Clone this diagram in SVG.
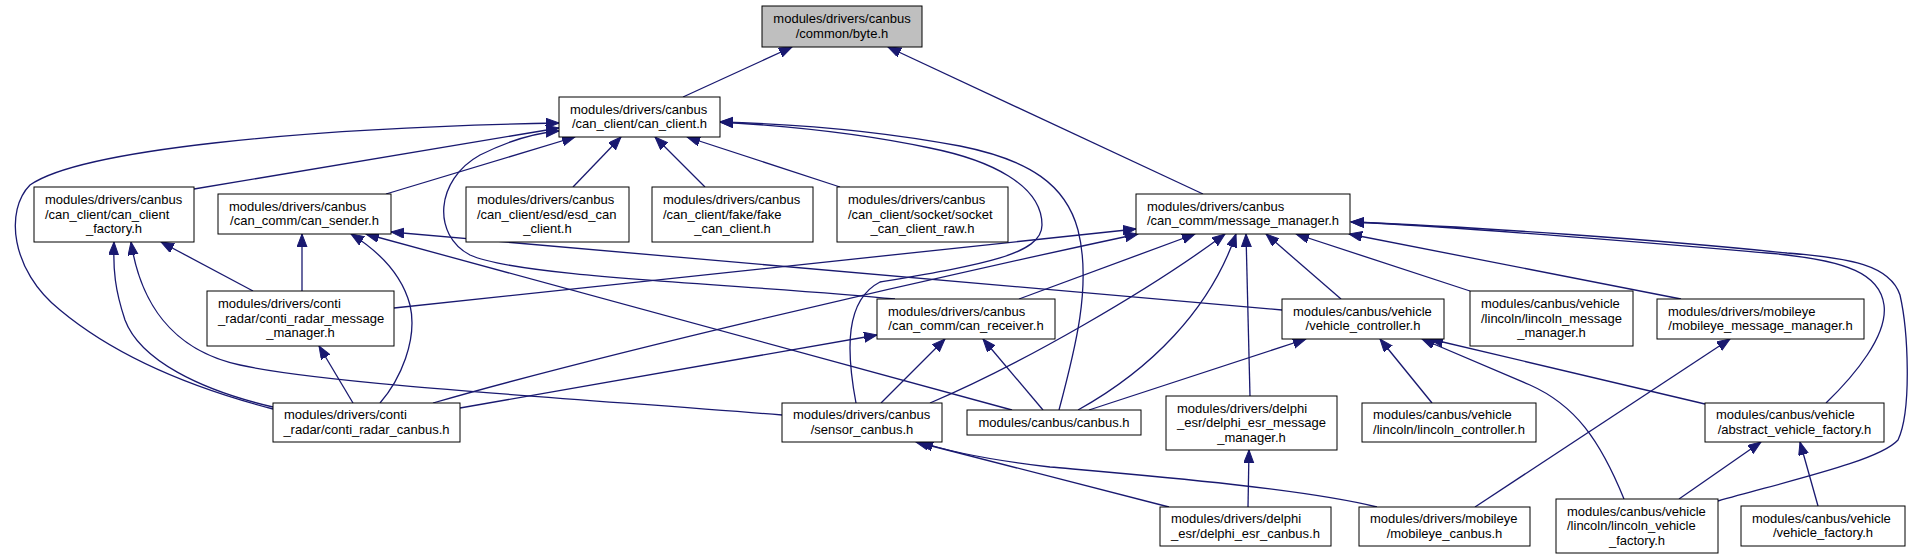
<svg xmlns="http://www.w3.org/2000/svg" width="1917" height="560" viewBox="0 0 1917 560">
<style>
.node rect{fill:#fff;stroke:#000;stroke-width:1}
.node text{font-family:"Liberation Sans",Arial,Helvetica,sans-serif;font-size:13px;fill:#000}
.node text.c{text-anchor:middle}
#byte rect{fill:#bfbfbf}
.e{fill:none;stroke:#191970;stroke-width:1.3;marker-end:url(#ah)}
</style>
<defs>
<marker id="ah" markerUnits="userSpaceOnUse" markerWidth="14" markerHeight="11" refX="13" refY="5" orient="auto">
<path d="M0,0 L13,5 L0,10 z" fill="#191970" stroke="#191970" stroke-width="1"/>
</marker>
</defs>
<rect width="1917" height="560" fill="#fff"/>
<g id="edges">
<path class="e" d="M683,97 L792,47"/>
<path class="e" d="M1203,194 L888,47"/>
<path class="e" d="M194,189 L559,128"/>
<path class="e" d="M386,194 L575,137"/>
<path class="e" d="M573,187 L621,137"/>
<path class="e" d="M705,187 L655,137"/>
<path class="e" d="M840,187 L687,137"/>
<path class="e" d="M273,409 C200,390 120,360 60,310 C10,270 5,210 30,185 C80,150 300,128 559,123"/>
<path class="e" d="M895,299 C760,285 520,278 470,255 C432,235 435,180 480,155 C510,140 535,133 559,131"/>
<path class="e" d="M856,403 C846,350 845,300 880,282 C980,265 1042,255 1042,225 C1042,185 990,160 930,148 C860,133 790,126 720,122"/>
<path class="e" d="M1059,410 C1075,350 1092,285 1078,230 C1066,185 1030,160 960,146 C880,131 800,124 720,122"/>
<path class="e" d="M253,291 L161,242"/>
<path class="e" d="M273,407 C200,390 140,360 125,320 C115,290 113,270 114,242"/>
<path class="e" d="M782,415 C600,400 330,385 240,365 C170,350 140,300 131,242"/>
<path class="e" d="M302,291 L302,234"/>
<path class="e" d="M380,403 C400,380 418,340 410,305 C402,275 380,252 351,234"/>
<path class="e" d="M1012,410 L366,234"/>
<path class="e" d="M1282,310 L391,232"/>
<path class="e" d="M394,308 L1136,229"/>
<path class="e" d="M433,403 C600,355 900,285 1138,234"/>
<path class="e" d="M460,408 L877,335"/>
<path class="e" d="M1019,299 L1195,234"/>
<path class="e" d="M881,403 L945,339"/>
<path class="e" d="M1043,410 L983,339"/>
<path class="e" d="M930,403 C1020,365 1150,290 1225,234"/>
<path class="e" d="M1078,410 C1150,370 1210,310 1236,234"/>
<path class="e" d="M1250,396 L1246,234"/>
<path class="e" d="M1341,299 L1266,234"/>
<path class="e" d="M1470,291 L1296,234"/>
<path class="e" d="M1681,299 L1349,234"/>
<path class="e" d="M1826,403 C1855,375 1888,335 1884,305 C1880,275 1850,260 1767,253 C1650,243 1480,228 1351,222"/>
<path class="e" d="M1718,501 C1800,478 1880,460 1898,440 C1912,410 1908,330 1900,295 C1890,265 1850,258 1787,253 C1660,240 1480,227 1351,222"/>
<path class="e" d="M1089,410 L1306,339"/>
<path class="e" d="M1432,403 L1380,339"/>
<path class="e" d="M1624,499 C1600,440 1575,405 1530,385 L1422,339"/>
<path class="e" d="M1705,404 L1430,339"/>
<path class="e" d="M1475,507 L1730,339"/>
<path class="e" d="M1679,499 L1761,442"/>
<path class="e" d="M1818,506 L1800,442"/>
<path class="e" d="M1169,507 L916,442"/>
<path class="e" d="M1377,507 C1300,488 1140,475 1050,467 C990,460 950,452 920,442"/>
<path class="e" d="M1248,507 L1249,450"/>
<path class="e" d="M353,403 L319,346"/>
</g>
<g id="byte" class="node"><rect x="762" y="6" width="160" height="41"/><text class="c" x="842" y="23.25">modules/drivers/canbus</text><text class="c" x="842" y="37.75">/common/byte.h</text></g>
<g id="can_client" class="node"><rect x="559" y="97" width="161" height="40"/><text x="570" y="113.75">modules/drivers/canbus</text><text class="c" x="639.5" y="128.25">/can_client/can_client.h</text></g>
<g id="can_client_factory" class="node"><rect x="34" y="187" width="160" height="55"/><text x="45" y="204">modules/drivers/canbus</text><text x="45" y="218.5">/can_client/can_client</text><text class="c" x="114" y="233">_factory.h</text></g>
<g id="can_sender" class="node"><rect x="218" y="194" width="173" height="40"/><text x="229" y="210.75">modules/drivers/canbus</text><text class="c" x="304.5" y="225.25">/can_comm/can_sender.h</text></g>
<g id="esd_can_client" class="node"><rect x="466" y="187" width="163" height="55"/><text x="477" y="204">modules/drivers/canbus</text><text x="477" y="218.5">/can_client/esd/esd_can</text><text class="c" x="547.5" y="233">_client.h</text></g>
<g id="fake_can_client" class="node"><rect x="652" y="187" width="161" height="55"/><text x="663" y="204">modules/drivers/canbus</text><text x="663" y="218.5">/can_client/fake/fake</text><text class="c" x="732.5" y="233">_can_client.h</text></g>
<g id="socket_can_client_raw" class="node"><rect x="837" y="187" width="171" height="55"/><text x="848" y="204">modules/drivers/canbus</text><text x="848" y="218.5">/can_client/socket/socket</text><text class="c" x="922.5" y="233">_can_client_raw.h</text></g>
<g id="message_manager" class="node"><rect x="1136" y="194" width="214" height="40"/><text x="1147" y="210.75">modules/drivers/canbus</text><text class="c" x="1243" y="225.25">/can_comm/message_manager.h</text></g>
<g id="conti_radar_message_manager" class="node"><rect x="207" y="291" width="187" height="55"/><text x="218" y="308">modules/drivers/conti</text><text x="218" y="322.5">_radar/conti_radar_message</text><text class="c" x="300.5" y="337">_manager.h</text></g>
<g id="can_receiver" class="node"><rect x="877" y="299" width="178" height="40"/><text x="888" y="315.75">modules/drivers/canbus</text><text class="c" x="966" y="330.25">/can_comm/can_receiver.h</text></g>
<g id="vehicle_controller" class="node"><rect x="1282" y="299" width="162" height="40"/><text x="1293" y="315.75">modules/canbus/vehicle</text><text class="c" x="1363" y="330.25">/vehicle_controller.h</text></g>
<g id="lincoln_message_manager" class="node"><rect x="1470" y="291" width="163" height="55"/><text x="1481" y="308">modules/canbus/vehicle</text><text x="1481" y="322.5">/lincoln/lincoln_message</text><text class="c" x="1551.5" y="337">_manager.h</text></g>
<g id="mobileye_message_manager" class="node"><rect x="1657" y="299" width="207" height="40"/><text x="1668" y="315.75">modules/drivers/mobileye</text><text class="c" x="1760.5" y="330.25">/mobileye_message_manager.h</text></g>
<g id="conti_radar_canbus" class="node"><rect x="273" y="403" width="187" height="39"/><text x="284" y="419.25">modules/drivers/conti</text><text class="c" x="366.5" y="433.75">_radar/conti_radar_canbus.h</text></g>
<g id="sensor_canbus" class="node"><rect x="782" y="403" width="160" height="39"/><text x="793" y="419.25">modules/drivers/canbus</text><text class="c" x="862" y="433.75">/sensor_canbus.h</text></g>
<g id="canbus" class="node"><rect x="967" y="410" width="174" height="25"/><text class="c" x="1054" y="426.5">modules/canbus/canbus.h</text></g>
<g id="delphi_esr_message_manager" class="node"><rect x="1166" y="396" width="171" height="54"/><text x="1177" y="412.5">modules/drivers/delphi</text><text x="1177" y="427">_esr/delphi_esr_message</text><text class="c" x="1251.5" y="441.5">_manager.h</text></g>
<g id="lincoln_controller" class="node"><rect x="1362" y="403" width="174" height="39"/><text x="1373" y="419.25">modules/canbus/vehicle</text><text class="c" x="1449" y="433.75">/lincoln/lincoln_controller.h</text></g>
<g id="abstract_vehicle_factory" class="node"><rect x="1705" y="403" width="179" height="39"/><text x="1716" y="419.25">modules/canbus/vehicle</text><text class="c" x="1794.5" y="433.75">/abstract_vehicle_factory.h</text></g>
<g id="delphi_esr_canbus" class="node"><rect x="1160" y="507" width="171" height="39"/><text x="1171" y="523.25">modules/drivers/delphi</text><text class="c" x="1245.5" y="537.75">_esr/delphi_esr_canbus.h</text></g>
<g id="mobileye_canbus" class="node"><rect x="1359" y="507" width="171" height="39"/><text x="1370" y="523.25">modules/drivers/mobileye</text><text class="c" x="1444.5" y="537.75">/mobileye_canbus.h</text></g>
<g id="lincoln_vehicle_factory" class="node"><rect x="1556" y="499" width="162" height="54"/><text x="1567" y="515.5">modules/canbus/vehicle</text><text x="1567" y="530">/lincoln/lincoln_vehicle</text><text class="c" x="1637" y="544.5">_factory.h</text></g>
<g id="vehicle_factory" class="node"><rect x="1741" y="506" width="164" height="40"/><text x="1752" y="522.75">modules/canbus/vehicle</text><text class="c" x="1823" y="537.25">/vehicle_factory.h</text></g>
</svg>
